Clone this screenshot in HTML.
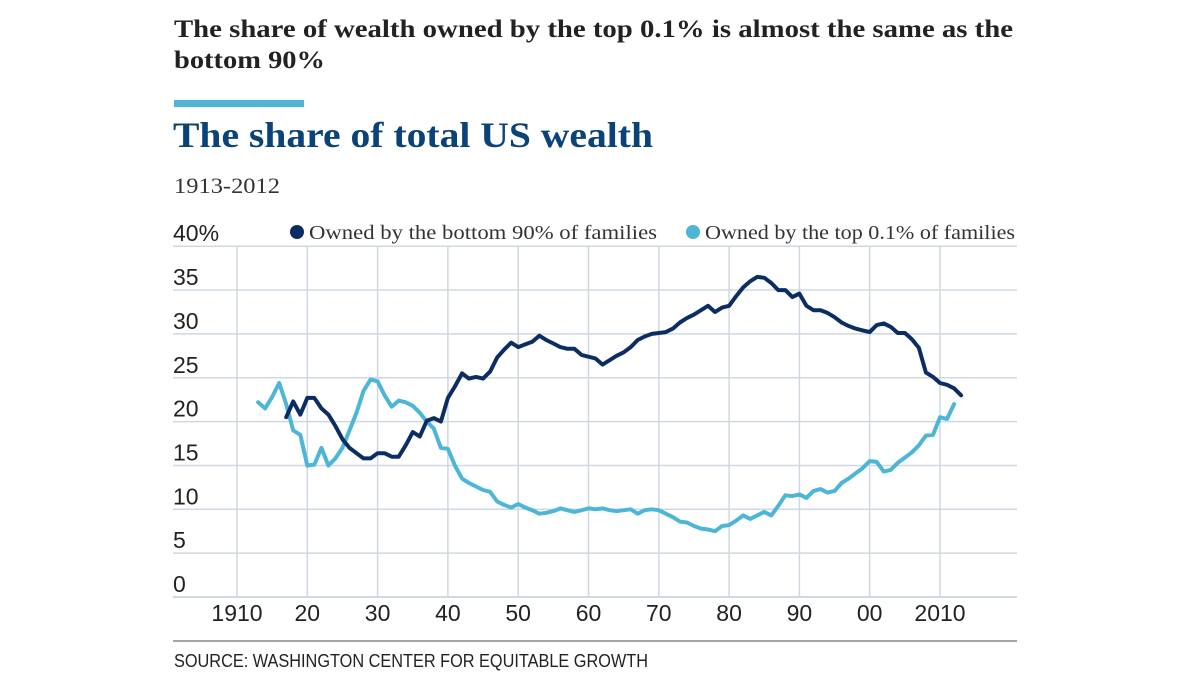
<!DOCTYPE html>
<html><head><meta charset="utf-8"><style>
html,body{margin:0;padding:0;background:#fff;}
svg{display:block;}
</style></head><body>
<svg width="1200" height="681" viewBox="0 0 1200 681" xmlns="http://www.w3.org/2000/svg">
<text x="174" y="37" font-family="Liberation Serif, serif" font-weight="bold" font-size="25" fill="#222" textLength="839" lengthAdjust="spacingAndGlyphs">The share of wealth owned by the top 0.1% is almost the same as the</text>
<text x="174" y="68" font-family="Liberation Serif, serif" font-weight="bold" font-size="25" fill="#222" textLength="151" lengthAdjust="spacingAndGlyphs">bottom 90%</text>
<rect x="174" y="100" width="130" height="7" fill="#4db6d6"/>
<text x="173" y="147" font-family="Liberation Serif, serif" font-weight="bold" font-size="36" fill="#0b4378" textLength="480" lengthAdjust="spacingAndGlyphs">The share of total US wealth</text>
<text x="174" y="193" font-family="Liberation Serif, serif" font-size="22" fill="#333" textLength="106" lengthAdjust="spacingAndGlyphs">1913-2012</text>
<g id="grid"></g>
<g id="lines"></g>
<g>
<circle cx="297" cy="232" r="7" fill="#0c2d63"/>
<text x="309" y="239" font-family="Liberation Serif, serif" font-size="20" fill="#333" textLength="348" lengthAdjust="spacingAndGlyphs">Owned by the bottom 90% of families</text>
<circle cx="693" cy="232" r="7" fill="#4db6d6"/>
<text x="705" y="239" font-family="Liberation Serif, serif" font-size="20" fill="#333" textLength="310" lengthAdjust="spacingAndGlyphs">Owned by the top 0.1% of families</text>
</g>
<line x1="173" y1="641" x2="1017" y2="641" stroke="#888" stroke-width="1.5"/>
<text x="174" y="667" font-family="Liberation Sans Narrow, Liberation Sans, sans-serif" font-size="18" fill="#222" textLength="474" lengthAdjust="spacingAndGlyphs">SOURCE: WASHINGTON CENTER FOR EQUITABLE GROWTH</text>
</svg>
<script>
const yTicks=[0,5,10,15,20,25,30,35,40];
const yTickLabels=["0","5","10","15","20","25","30","35","40%"];
const xTicks=[1910,1920,1930,1940,1950,1960,1970,1980,1990,2000,2010];
const xTickLabels=["1910","20","30","40","50","60","70","80","90","00","2010"];
const topStart=1913;
const top01=[22.2,21.5,22.8,24.4,22,19,18.5,15,15.1,17,15,15.8,17,19,21,23.5,24.8,24.6,23,21.7,22.4,22.2,21.8,21,20,19.2,17,16.9,15,13.5,13,12.6,12.2,12,10.9,10.5,10.2,10.6,10.2,9.9,9.5,9.6,9.8,10.1,9.9,9.7,9.9,10.1,10,10.1,9.9,9.8,9.9,10,9.5,9.9,10,9.9,9.5,9.1,8.6,8.5,8.1,7.8,7.7,7.5,8.1,8.2,8.7,9.3,8.9,9.3,9.7,9.3,10.4,11.6,11.5,11.7,11.3,12.1,12.3,11.9,12.1,13,13.5,14.1,14.7,15.5,15.4,14.3,14.5,15.3,15.9,16.5,17.3,18.4,18.5,20.5,20.3,22];
const bottomStart=1917;
const bottom90=[20.5,22.3,20.8,22.7,22.7,21.5,20.8,19.5,18,17,16.4,15.8,15.8,16.4,16.4,16,16,17.3,18.8,18.3,20.1,20.4,20,22.7,24,25.5,24.9,25.1,24.9,25.7,27.3,28.2,29,28.5,28.8,29.1,29.8,29.3,28.9,28.5,28.3,28.3,27.6,27.4,27.2,26.5,27,27.5,27.9,28.5,29.3,29.7,30,30.1,30.2,30.6,31.3,31.8,32.2,32.7,33.2,32.5,33,33.2,34.3,35.3,36,36.5,36.4,35.8,35,35,34.2,34.6,33.2,32.7,32.7,32.4,31.9,31.3,30.9,30.6,30.4,30.2,31,31.2,30.8,30.1,30.1,29.4,28.4,25.6,25.1,24.4,24.2,23.8,23];
const NS="http://www.w3.org/2000/svg";
const xS=yr=>237+(yr-1910)*7.03;
const yS=v=>597-v*8.77;
const grid=document.getElementById('grid');
const lines=document.getElementById('lines');
function mk(tag,attrs,parent){const e=document.createElementNS(NS,tag);for(const k in attrs)e.setAttribute(k,attrs[k]);parent.appendChild(e);return e;}
yTicks.forEach((v,i)=>{
  const l=mk('line',{x1:173,x2:1017,y1:yS(v),y2:yS(v),stroke:'#cfd8e0','stroke-width':v===0?2:1.5},grid);
  
  
  const t=mk('text',{x:173,y:yS(v)-5,'font-family':'Liberation Sans, sans-serif','font-size':23,fill:'#222'},grid);
  t.textContent=yTickLabels[i];
  
  
});
xTicks.forEach((yr,i)=>{
  const l=mk('line',{x1:xS(yr),x2:xS(yr),y1:yS(40),y2:yS(0),stroke:'#cfd8e0','stroke-width':1.5},grid);
  
  
  const t=mk('text',{x:xS(yr),y:621,'text-anchor':'middle','font-family':'Liberation Sans, sans-serif','font-size':23,fill:'#222'},grid);
  t.textContent=xTickLabels[i];
  
  
});
function path(vals,start,color,name){
  const d=vals.map((v,i)=>(i?'L':'M')+xS(start+i).toFixed(1)+','+yS(v).toFixed(1)).join('');
  const p=mk('path',{d:d,fill:'none',stroke:color,'stroke-width':4,'stroke-linejoin':'round','stroke-linecap':'round'},lines);
  
  
}
path(top01,topStart,'#4db6d6','top-01-line');
path(bottom90,bottomStart,'#0c2d63','bottom-90-line');
</script>
</body></html>
